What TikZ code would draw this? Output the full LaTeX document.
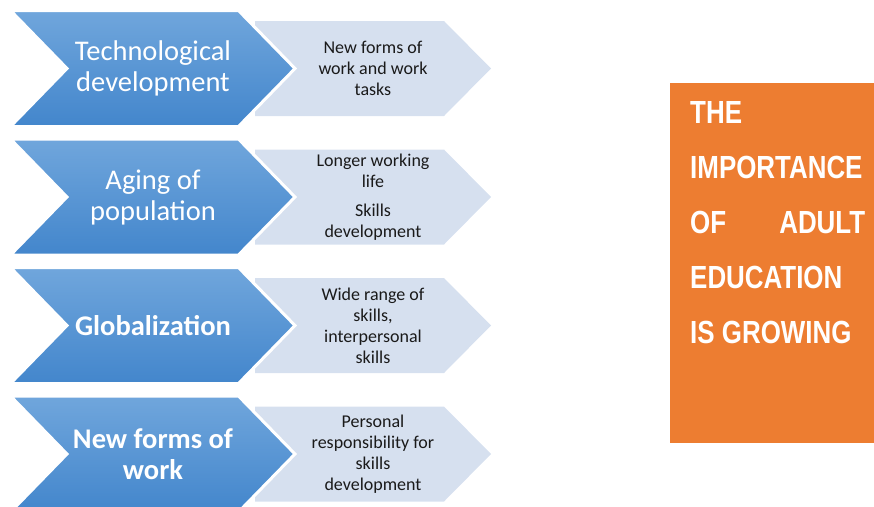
\documentclass[tikz,border=0pt]{standalone}
\usepackage{fontspec}
\setmainfont{Carlito}
\newfontfamily\headfont[FakeStretch=0.81]{Liberation Sans}
\usepackage{tikz}
\usetikzlibrary{calc}

\definecolor{chevtop}{HTML}{70A6DC}
\definecolor{chevbottom}{HTML}{4386CC}
\definecolor{palefill}{HTML}{D6E0EF}
\definecolor{boxorange}{HTML}{ED7D31}
\definecolor{darktext}{HTML}{1A1A1A}

\tikzset{
	bluechev/.style={top color=chevtop, bottom color=chevbottom, draw=white, line width=3pt, line join=miter},
	palechev/.style={fill=palefill},
	maintext/.style={text=white, align=center, inner sep=0pt, font=\fontsize{28.5}{31}\selectfont},
	detailtext/.style={text=darktext, align=center, inner sep=0pt, font=\fontsize{18}{21}\selectfont},
	headline/.style={text=white, inner sep=0pt, anchor=base west, font=\headfont\bfseries\fontsize{32}{36}\selectfont}
}

\begin{document}
\begin{tikzpicture}[x=1pt, y=-1pt]
			%%%%% START %%%%%
			\useasboundingbox (0, 0) rectangle (874, 506);
			
			% rows: centre, left chevron text, right arrow text
			\foreach \c/\main/\detail in {
				68.5/{Technological\\development}/{New forms of\\work and work\\tasks},
				197/{Aging of\\population}/{Longer working\\life\\[8pt]Skills\\development},
				325.5/{\bfseries Globalization}/{Wide range of\\skills,\\interpersonal\\skills},
				454/{\bfseries New forms of\\\bfseries work}/{Personal\\responsibility for\\skills\\development}} {
				
				\fill[palechev] (255, \c-47.5) -- (444, \c-47.5) -- (491, \c) -- (444, \c+47.5) -- (255, \c+47.5) -- cycle;
				\draw[bluechev] (10.5, \c-58) -- (238.5, \c-58) -- (295, \c) -- (238.5, \c+58) -- (10.5, \c+58) -- (67, \c) -- cycle;
				
				\node[maintext] (main\c) at (153, \c) {\main};
				\node[detailtext] (detail\c) at (373, \c) {\detail};
			}
			
			% orange box on the right
			\fill[boxorange] (670, 83) rectangle (874, 443);
			\foreach \txt [count=\i] in {THE, IMPORTANCE, OF\hfill ADULT, EDUCATION, IS GROWING}
				\node[headline] (head\i) at (690, 68+55*\i) {\hbox to 175pt{\txt\hfil}};
			
			%%%%% END %%%%%
		\end{tikzpicture}
\end{document}
